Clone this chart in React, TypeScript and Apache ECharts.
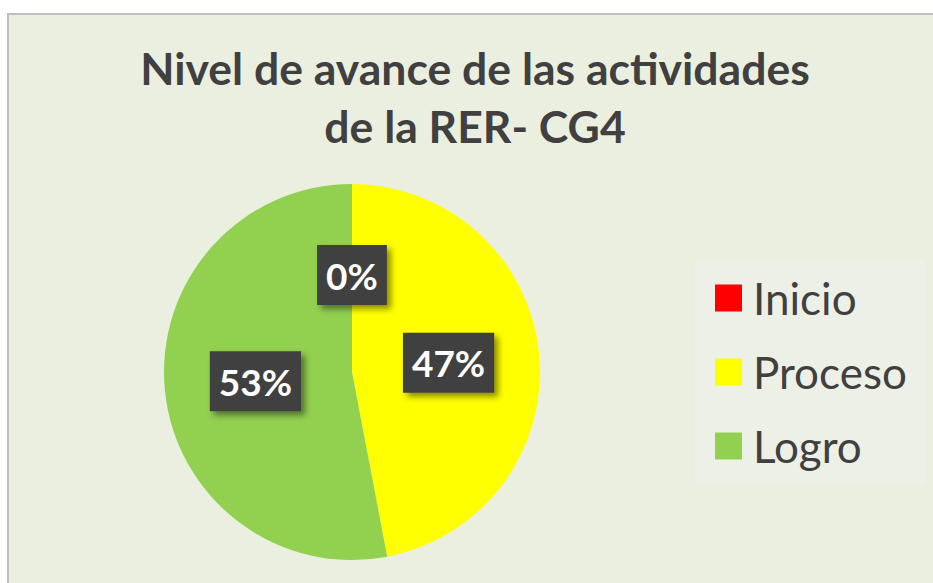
import React, { useEffect, useRef } from "react";
import * as echarts from "echarts";

const titleLines = ["Nivel de avance de las actividades", "de la RER- CG4"];
const categories = ["Inicio", "Proceso", "Logro"];
const values = [0, 47, 53];
const colors = ["#FF0000", "#FFFF00", "#92D050"];

export default function App() {
  const ref = useRef<HTMLDivElement>(null);
  useEffect(() => {
    if (!ref.current) return;
    const chart = echarts.init(ref.current, null, { renderer: "svg" });
    const total = values.reduce((a, b) => a + b, 0);
    chart.setOption({
      animation: false,
      backgroundColor: "#ffffff",
      graphic: [
        {
          type: "rect",
          z: -10,
          shape: { x: 8, y: 14, width: 940, height: 600 },
          style: { fill: "#EBEFDF", stroke: "#BFBFBF", lineWidth: 2 },
        },
        {
          type: "rect",
          z: -9,
          shape: { x: 695, y: 260, width: 230, height: 225 },
          style: { fill: "#EDF0E6" },
        },
      ],
      title: {
        text: titleLines.join("\n"),
        left: 470,
        top: 33,
        textAlign: "center",
        textStyle: {
          fontFamily: "Lato",
          fontWeight: "bold",
          fontSize: 44.5,
          lineHeight: 58,
          color: "#404040",
        },
      },
      legend: {
        orient: "vertical",
        left: 715,
        top: 274,
        padding: 0,
        itemWidth: 27,
        itemHeight: 27,
        itemGap: 26,
        icon: "rect",
        data: categories,
        textStyle: {
          fontFamily: "Lato",
          fontSize: 44,
          lineHeight: 48,
          color: "#404040",
          padding: [0, 0, 0, 6],
        },
      },
      series: [
        {
          type: "pie",
          center: [352, 372],
          radius: [0, 188],
          startAngle: 90,
          clockwise: true,
          minAngle: 0,
          avoidLabelOverlap: false,
          data: categories.map((c, i) => ({
            name: c,
            value: values[i],
            itemStyle: { color: colors[i] },
          })),
          itemStyle: { borderWidth: 0 },
          label: {
            show: true,
            position: "inside",
            formatter: (p: any) => Math.round((p.value / total) * 100) + "%",
            fontFamily: "Lato",
            fontWeight: "bold",
            fontSize: 37,
            lineHeight: 40,
            color: "#FFFFFF",
            backgroundColor: "#404040",
            padding: [10, 9, 10, 9],
            shadowColor: "rgba(0,0,0,0.45)",
            shadowBlur: 6,
            shadowOffsetX: 4,
            shadowOffsetY: 4,
          },
          labelLine: { show: false },
          emphasis: { disabled: true },
        },
      ],
    });
    return () => chart.dispose();
  }, []);
  return (
    <div
      ref={ref}
      style={{ position: "fixed", left: 0, top: 0, width: 933, height: 583 }}
    />
  );
}
